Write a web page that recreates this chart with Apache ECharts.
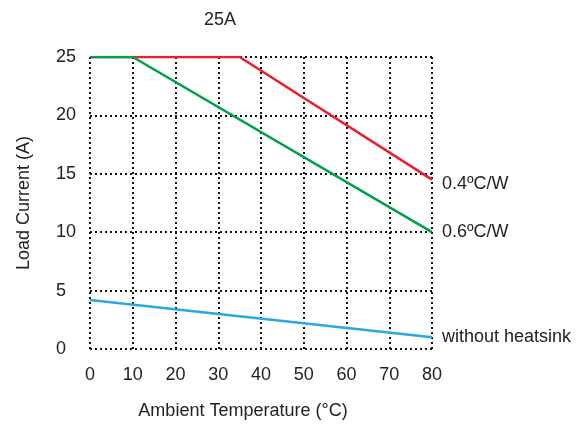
<!DOCTYPE html>
<html>
<head>
<meta charset="UTF-8">
<title>25A</title>
<script src="https://cdn.jsdelivr.net/npm/echarts@6/dist/echarts.min.js"></script>
<style>
html, body { margin: 0; padding: 0; background: #fff; }
#chart { width: 586px; height: 428px; }
</style>
</head>
<body>
<div id="chart"></div>
<script type="text/javascript">
// curves
var red04 = [[0, 25], [35, 25], [80, 14.5]];
var green06 = [[0, 25], [10, 25], [80, 10]];
var blueNone = [[0, 4.2], [80, 1.0]];
var seriesNames = ['0.4ºC/W', '0.6ºC/W', 'without heatsink'];
var seriesColors = ['#e8202a', '#00a04b', '#27a9e1'];

var font = "'Liberation Sans', Arial, sans-serif";
var myChart = echarts.init(document.getElementById('chart'));

function makeLine(name, data, color, labelDy) {
	return {
		name: name,
		type: 'line',
		data: data,
		symbol: 'none',
		lineStyle: { color: color, width: 2.5 },
		endLabel: {
			show: true,
			formatter: '{a}',
			color: '#222',
			fontSize: 18,
			fontFamily: font,
			distance: 10,
			offset: [0, labelDy]
		},
		animation: false
	};
}

var option = {
	title: {
		text: '25A',
		left: 199,
		top: 6,
		textStyle: { fontSize: 18, fontWeight: 'normal', color: '#222', fontFamily: font }
	},
	grid: { left: 90, right: 154, top: 57, bottom: 79 },
	xAxis: {
		type: 'value',
		min: 0, max: 80, interval: 10,
		name: 'Ambient Temperature (°C)',
		nameLocation: 'middle',
		nameGap: 53,
		nameTextStyle: { fontSize: 18, color: '#222', fontFamily: font, padding: [0, 36, 0, 0] },
		axisLine: { show: false },
		axisTick: { show: false },
		axisLabel: { margin: 17, fontSize: 18, color: '#222', fontFamily: font },
		splitLine: { show: true, lineStyle: { color: '#111', width: 2, type: [2, 3] } }
	},
	yAxis: {
		type: 'value',
		min: 0, max: 25, interval: 5,
		name: 'Load Current (A)',
		nameLocation: 'middle',
		nameGap: 57,
		nameTextStyle: { fontSize: 18, color: '#222', fontFamily: font },
		axisLine: { show: false },
		axisTick: { show: false },
		axisLabel: { margin: 34, align: 'left', fontSize: 18, color: '#222', fontFamily: font, padding: [4, 0, 0, 0] },
		splitLine: { show: true, lineStyle: { color: '#111', width: 2, type: [2, 3] } }
	},
	series: [
		makeLine(seriesNames[0], red04, seriesColors[0], 4),
		makeLine(seriesNames[1], green06, seriesColors[1], 0),
		makeLine(seriesNames[2], blueNone, seriesColors[2], 0)
	]
};
myChart.setOption(option);
</script>
</body>
</html>
